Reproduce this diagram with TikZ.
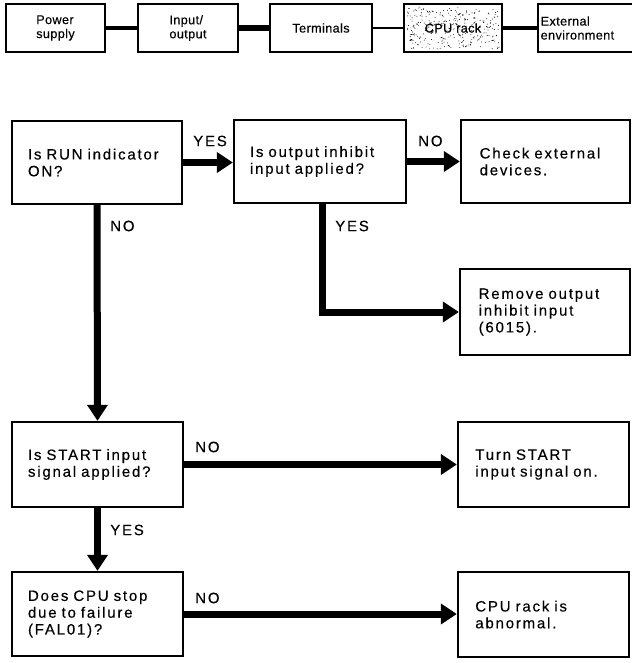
\documentclass[tikz,border=0pt]{standalone}
\usepackage{fontspec}
\setmainfont{Liberation Sans}
\newfontfamily\flowfont{Liberation Sans}[LetterSpace=12.0,WordSpace=2.8,FakeBold=0.3]
\newfontfamily\topfont{Liberation Sans}[LetterSpace=3.0,FakeBold=0.3]
\usetikzlibrary{arrows.meta,backgrounds}
\begin{document}
\begin{tikzpicture}[x=0.75pt,y=-0.75pt,
  fbox/.style={draw, line width=1.8pt, align=left, inner xsep=12pt, inner ysep=0pt,
    font=\flowfont\fontsize{11.25}{12.6}\selectfont},
  tbox/.style={draw, line width=1.6pt, align=left, inner sep=0pt, minimum height=36pt,
    font=\topfont\fontsize{9.5}{10.5}\selectfont},
  conn/.style={line width=5.25pt, line cap=butt, line join=miter, -{Triangle[length=12pt,width=15pt]}},
  lbl/.style={font=\flowfont\fontsize{11.25}{12.6}\selectfont, inner sep=0pt, anchor=west},
  link/.style={line width=#1}
]
\useasboundingbox (0,0) rectangle (631,663);

% top row
\node[tbox, minimum width=74.25pt] (p1) at (55.5,28) {Power\\supply};
\node[tbox, minimum width=75pt] (p2) at (188,28) {Input/\\output};
\node[tbox, minimum width=76.5pt] (p3) at (321,28) {Terminals};
\node[tbox, minimum width=73.5pt] (p4) at (453,28) {CPU rack};
\node[tbox, text width=72.5pt, inner xsep=2pt] (p5) at (589,28) {External\\environment};
\draw[link=3.4pt] (p1.east) -- (p2.west);
\draw[link=4.1pt] (p2.east) -- (p3.west);
\draw[link=1.9pt] (p3.east) -- (p4.west);
\draw[link=3.4pt] (p4.east) -- (p5.west);

\begin{scope}[on background layer]
  \fill[white] (0,0) rectangle (631,663);
  \pgfmathsetseed{42}
  \foreach \k in {1,...,230}{
    \pgfmathsetmacro{\rx}{407+rnd*92}
    \pgfmathsetmacro{\ry}{7+rnd*42}
    \fill (\rx,\ry) circle (0.35pt);
  }
  \foreach \k in {1,...,45}{
    \pgfmathsetmacro{\rx}{409+rnd*86}
    \pgfmathsetmacro{\ry}{9+rnd*38}
    \pgfmathsetmacro{\dx}{rnd*5-2.5}
    \pgfmathsetmacro{\dy}{rnd*4-2}
    \draw[line width=0.45pt] (\rx,\ry) -- ++(\dx,\dy);
  }
\end{scope}

% flowchart boxes
\node[fbox, text width=103.5pt, minimum height=62.25pt] (b1) at (97,162.5)
  {\mbox{Is RUN indicator}\\ON?};
\node[fbox, text width=105pt, minimum height=62.25pt] (b2) at (320,161.5)
  {\mbox{Is output inhibit}\\\mbox{input applied?}};
\node[fbox, text width=98.75pt, minimum height=62.25pt, inner xsep=14pt] (b3) at (545.5,161.5)
  {\mbox{Check external}\\devices.};
\node[fbox, text width=99.5pt, minimum height=64.5pt, inner xsep=14pt] (b4) at (545,312)
  {\mbox{Remove output}\\\mbox{inhibit input}\\(6015).};
\node[fbox, text width=104.25pt, minimum height=63.75pt] (b5) at (97.5,464.5)
  {\mbox{Is START input}\\\mbox{signal applied?}};
\node[fbox, text width=102.25pt, minimum height=63.75pt, inner xsep=13pt] (b6) at (543.5,464.5)
  {\mbox{Turn START}\\\mbox{input signal on.}};
\node[fbox, text width=104.25pt, minimum height=63pt] (b7) at (97.5,614)
  {\mbox{Does CPU stop}\\\mbox{due to failure}\\(FAL01)?};
\node[fbox, text width=102.25pt, minimum height=63.75pt, inner xsep=13pt] (b8) at (543.5,614.5)
  {\mbox{CPU rack is}\\abnormal.};

% connectors
\draw[conn] (b1.east) -- (b1.east -| b2.west);
\draw[conn] (b2.east) -- (b2.east -| b3.west);
\draw[conn] (b1.south) -- (b5.north);
\draw[conn] ([xshift=2pt]b2.south) |- (b4.west);
\draw[conn] (b5.east) -- (b5.east -| b6.west);
\draw[conn] (b5.south) -- (b7.north);
\draw[conn] (b7.east) -- (b7.east -| b8.west);

% labels
\node[lbl] (yes1) at (193,141) {YES};
\node[lbl] (no1) at (418,141) {NO};
\node[lbl] (no2) at (110,226) {NO};
\node[lbl] (yes2) at (335,226) {YES};
\node[lbl] (no3) at (195,447) {NO};
\node[lbl] (yes3) at (110,530) {YES};
\node[lbl] (no4) at (195,598) {NO};
\end{tikzpicture}
\end{document}
